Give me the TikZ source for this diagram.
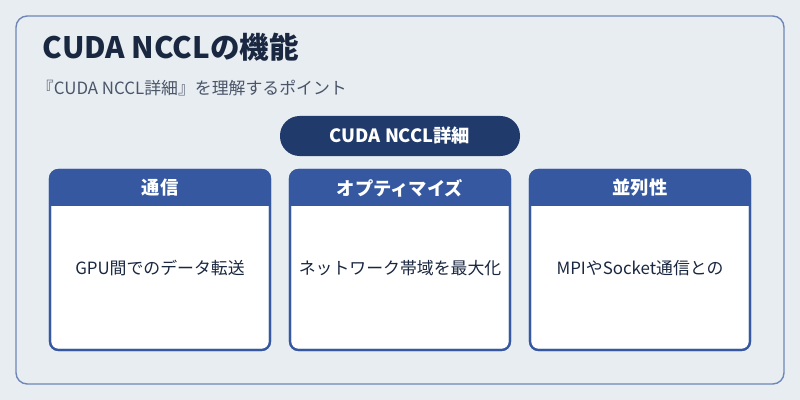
\documentclass[tikz,border=0pt]{standalone}
\usepackage{fontspec}
\setmainfont{Noto Sans CJK JP}
\usetikzlibrary{positioning}
\definecolor{bgc}{HTML}{E8EDF2}
\definecolor{framec}{HTML}{6F86B8}
\definecolor{navy}{HTML}{1F3A6B}
\definecolor{headc}{HTML}{3558A0}
\definecolor{titlec}{HTML}{1A2740}
\definecolor{subc}{HTML}{4A5568}
\tikzset{card/.style={draw=headc, line width=1.5pt, fill=white, rounded corners=6pt, minimum width=5.5cm, minimum height=4.5cm, inner sep=0pt}}
\tikzset{head/.style={text=white, font=\bfseries\fontsize{13}{15}\selectfont, inner sep=0pt}}
\tikzset{body/.style={font=\fontsize{12}{14}\selectfont, text=titlec}}
\begin{document}
\begin{tikzpicture}[x=0.025cm, y=-0.025cm]
\fill[bgc] (0,0) rectangle (800,400);
\draw[framec, line width=1pt, fill=bgc, rounded corners=8pt] (16,16) rectangle (784,384);
\node[anchor=west, text=titlec, font=\bfseries\fontsize{21}{24}\selectfont] (title) at (38,47) {CUDA NCCLの機能};
\node[anchor=west, text=subc, font=\fontsize{12}{14}\selectfont] (sub) at (32,88) {『CUDA NCCL詳細』を理解するポイント};
\fill[navy, rounded corners=0.49cm] (280,116) rectangle (520,156);
\node[text=white, font=\bfseries\fontsize{13}{15}\selectfont] (pill) at (400,136) {CUDA NCCL詳細};

\foreach \cx/\nm/\hd/\tx in {160/comm/通信/GPU間でのデータ転送, 400/opt/オプティマイズ/ネットワーク帯域を最大化, 640/par/並列性/MPIやSocket通信との}{
  \node[card] (\nm) at (\cx,260) {};
  \begin{scope}
    \clip[rounded corners=6pt] (\cx-110,170) rectangle (\cx+110,350);
    \fill[headc] (\cx-110,170) rectangle (\cx+110,206);
  \end{scope}
  \draw[headc, line width=1.5pt, rounded corners=6pt] (\cx-110,170) rectangle (\cx+110,350);
  \node[head] (\nm-h) at (\cx,188) {\hd};
  \node[body] (\nm-t) at (\cx,268) {\tx};
}
\end{tikzpicture}
\end{document}
